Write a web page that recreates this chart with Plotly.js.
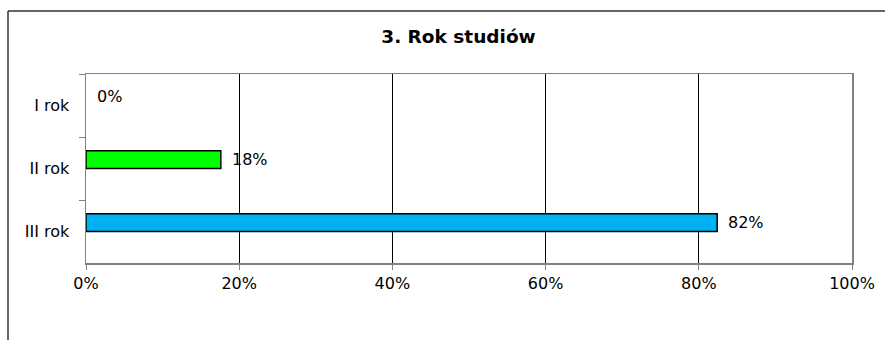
<!DOCTYPE html>
<html>
<head>
<meta charset="utf-8">
<script src="https://cdn.plot.ly/plotly-3.0.1.min.js"></script>
<style>html,body{margin:0;padding:0;background:#fff;}#chart{width:885px;height:340px;}</style>
</head>
<body>
<div id="chart"></div>
<script>
const categories = ["I rok", "II rok", "III rok"];
const values = [0, 17.6, 82.4];
const barColors = ["#00FF00", "#00FF00", "#00B0F0"];
const xTickVals = [0, 20, 40, 60, 80, 100];
const xTickText = ["0%", "20%", "40%", "60%", "80%", "100%"];
const labels = values.map(v => Math.round(v) + "%");

const FONT = "DejaVu Sans, Arial, sans-serif";
const L = 86, R = 852, T = 74, B = 263, W = 885, H = 340;
const px2x = p => (p - L) / (R - L);
const py2y = p => (B - p) / (B - T);

const trace = {
  type: "bar",
  orientation: "h",
  y: categories,
  x: values,
  width: 0.28,
  offset: -0.28,
  marker: {color: barColors, line: {color: "#000", width: values.map(v => v > 0 ? 1.5 : 0)}},
  hoverinfo: "skip"
};

const annotations = values.map((v, i) => ({
  x: v, y: categories[i], xref: "x", yref: "y",
  text: labels[i], showarrow: false,
  xanchor: "left", yanchor: "middle",
  xshift: 9, yshift: 9,
  font: {family: FONT, size: 16, color: "#000"}
}));

const layout = {
  width: W, height: H,
  margin: {l: L, r: W - R, t: T, b: H - B, pad: 0},
  paper_bgcolor: "#fff", plot_bgcolor: "#fff",
  showlegend: false,
  title: {
    text: "<b>3. Rok studiów</b>",
    font: {family: FONT, size: 18.5, color: "#000"},
    xref: "container", yref: "container",
    x: 458.5 / W, xanchor: "center",
    y: 1 - 37 / H, yanchor: "middle"
  },
  xaxis: {
    range: [0, 100],
    tickvals: xTickVals, ticktext: xTickText,
    showgrid: true, gridcolor: "#000", gridwidth: 1,
    zeroline: false,
    showline: true, linecolor: "#808080", linewidth: 1.5, mirror: true,
    ticks: "outside", ticklen: 5, tickcolor: "#808080", tickwidth: 1,
    tickfont: {family: FONT, size: 16, color: "#000"},
    fixedrange: true
  },
  yaxis: {
    type: "category",
    categoryorder: "array", categoryarray: categories,
    autorange: "reversed",
    range: [2.5, -0.5],
    tickson: "boundaries",
    showgrid: false, zeroline: false,
    showline: true, linecolor: "#808080", linewidth: 1.5, mirror: true,
    ticks: "outside", ticklen: 6, tickcolor: "#808080", tickwidth: 1,
    ticklabelstandoff: 12,
    tickfont: {family: FONT, size: 16, color: "#000"},
    fixedrange: true
  },
  annotations: annotations,
  shapes: [
    {type: "line", xref: "paper", yref: "paper", x0: px2x(8), x1: px2x(885), y0: py2y(11), y1: py2y(11), line: {color: "#333", width: 1.5}},
    {type: "line", xref: "paper", yref: "paper", x0: px2x(8), x1: px2x(8), y0: py2y(11), y1: py2y(340), line: {color: "#333", width: 1.5}}
  ]
};

Plotly.newPlot("chart", [trace], layout, {staticPlot: true, displayModeBar: false});
</script>
</body>
</html>
